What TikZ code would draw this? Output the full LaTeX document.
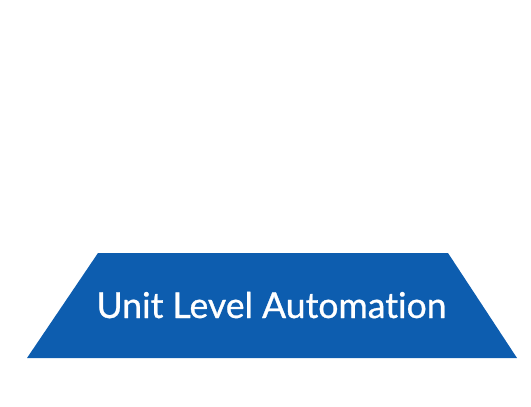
\documentclass[tikz,border=0pt]{standalone}
\usepackage{fontspec}
\setmainfont{Lato}[Ligatures=NoCommon,FakeBold=0.8]
\usetikzlibrary{positioning}
\definecolor{unitblue}{HTML}{0D5DAF}
\tikzset{
  level/.style={fill=unitblue,draw=none},
  lvltxt/.style={text=white,font=\fontsize{35.6}{38}\selectfont,inner sep=0pt,anchor=base},
}
\begin{document}
\begin{tikzpicture}[x=1pt,y=-1pt]
  \useasboundingbox (0,0) rectangle (531,407);
  % base level of the pyramid
  \coordinate (tl) at (98,253);
  \coordinate (tr) at (448,253);
  \coordinate (br) at (517,358);
  \coordinate (bl) at (27,358);
  \fill[level] (tl) -- (tr) -- (br) -- (bl) -- cycle;
  \node[lvltxt] (unit) at (271.5,318) {Unit Level Automation};
\end{tikzpicture}
\end{document}
